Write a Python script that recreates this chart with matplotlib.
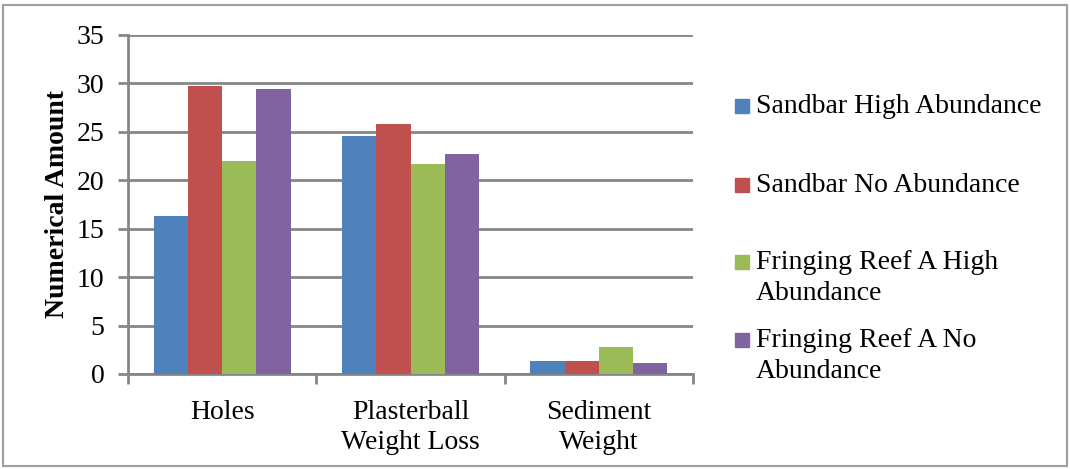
import numpy as np
import matplotlib
matplotlib.use("Agg")
import matplotlib.pyplot as plt
from matplotlib.patches import Rectangle

plt.rcParams['font.family'] = ['Liberation Serif', 'DejaVu Serif']

#------- data

categories = ['Holes', 'Plasterball\nWeight Loss', 'Sediment\nWeight']
series_names = ['Sandbar High Abundance', 'Sandbar No Abundance',
                'Fringing Reef A High\nAbundance', 'Fringing Reef A No\nAbundance']
sandbar_high = [16.3, 24.6, 1.35]
sandbar_no = [29.7, 25.8, 1.3]
reef_high = [22.0, 21.7, 2.8]
reef_no = [29.4, 22.7, 1.15]
colors = ['#4F81BD', '#C0504D', '#9BBB59', '#8064A2']

all_series = [sandbar_high, sandbar_no, reef_high, reef_no]

#------- figure

fig = plt.figure(figsize=(10.7, 4.69), dpi=100)
ax = fig.add_axes([0.1196, 0.2026, 0.5281, 0.7228])

grid_col = '#868686'
fs = 20
x = np.arange(len(categories))
bar_w = 1 / 5.5
for i, vals in enumerate(all_series):
    offs = (i - 1.5) * bar_w
    ax.bar(x + offs, vals, width=bar_w, color=colors[i], zorder=3, linewidth=0)

ax.set_ylim(0, 35)
ax.set_xlim(-0.5, len(categories) - 0.5)
ax.set_yticks(range(0, 36, 5))
ax.yaxis.grid(True, color=grid_col, linewidth=2, zorder=0)
ax.set_axisbelow(True)

# tick marks on category boundaries, labels in between
ax.set_xticks(np.arange(-0.5, len(categories), 1))
ax.set_xticklabels([])
ax.set_xticks(x, minor=True)
ax.set_xticklabels(categories, minor=True, fontsize=fs, linespacing=1.25)
ax.tick_params(axis='x', which='minor', length=0, pad=19)
ax.tick_params(axis='x', which='major', length=7, width=2, color=grid_col)
ax.tick_params(axis='y', length=7, width=2, color=grid_col, labelsize=fs, pad=10)

for side in ['top', 'right']:
    ax.spines[side].set_visible(False)
for side in ['left', 'bottom']:
    ax.spines[side].set_color(grid_col)
    ax.spines[side].set_linewidth(2)

ax.set_ylabel('Numerical Amount', fontsize=fs, fontweight='bold', labelpad=5)

#------- legend on the right, entries spaced evenly by their tops

top_px = [99, 178, 255, 333]
for name, col, ty in zip(series_names, colors, top_px):
    fig.patches.append(Rectangle((735 / 1070, 1 - (ty + 14) / 469), 14 / 1070, 14 / 469,
                                 transform=fig.transFigure, color=col))
    fig.text(756 / 1070, 1 - (ty - 5) / 469, name, fontsize=fs, va='top', ha='left',
             linespacing=1.3)

#------- outer border

fig.patches.append(Rectangle((3 / 1070, 3 / 469), 1064 / 1070, 461 / 469, transform=fig.transFigure,
                             fill=False, edgecolor='#A0A0A0', linewidth=1.5))

fig.savefig('out.png', dpi=100)
